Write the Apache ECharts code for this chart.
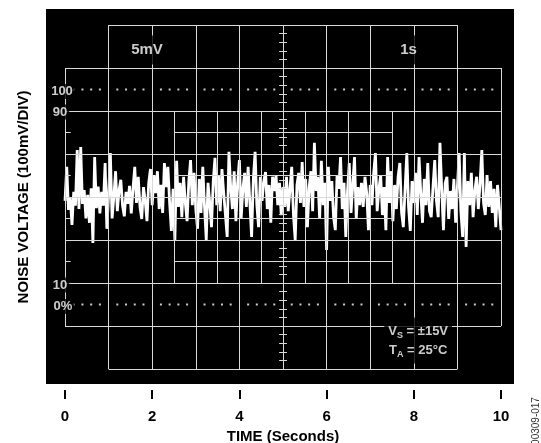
<!DOCTYPE html>
<html>
<head>
<meta charset="utf-8">
<script src="https://cdn.jsdelivr.net/npm/echarts@6/dist/echarts.min.js"></script>
<style>
html,body{margin:0;padding:0;background:#fff;}
#chart{width:541px;height:443px;}
</style>
</head>
<body>
<div id="chart"></div>
<script>
// ---- data ----
const timeTicks = [0, 2, 4, 6, 8, 10];          // seconds
const sampleStep = 0.04;                         // seconds between samples
const noiseMV = [
  -9, 70, -30, 0, -65, 12, -20, 109, -28, 116, -16, 16, -50, 5, -60, 20, -107, 93, -26, 24,
  -38, 12, -20, 79, -74, 5, 102, -50, 0, 60, -33, 16, 40, -20, -45, 12, -16, 26, -38, 20,
  70, -14, 47, -23, -51, 23, -9, -56, 33, 65, -19, 51, 9, 60, -28, 28, -37, 79, 23, 70,
  -14, -79, 19, -100, 84, -23, 33, -47, 47, -14, -56, 37, 86, -19, 56, -28, -74, 42, -37, 70,
  -23, -100, 33, -14,
  -70, 37, 91, -19, 51, -33, 65, 9, -42, -93, 105, 23, -28, 60, -56, 33, 86, -51, 19, 56,
  -23, 70, -14, -93, 42, 105, -19, -70, 47, -9, 37, 58, -28, 28, -60, 47, 14, 51, -19, 33,
  -42, 23, -23,
  47, -33, 19, 70, -42, -100, 28, 56, -14, 81, -23, 42, -70, 23, 60, -33, 126, 14, 47, -51,
  84, -19, 33, -123, 70, -9, 37, -47, -77, 51, 19, 93, -28, 33, -93, 14, 79, -37, 28, 93,
  -51, 23, -19,
  33, -23, 47, 9, -77, 28, -19, 56, 102, -33, 19, 51, -42, 23, -77, 93, -14, 60, -56, 28,
  -28, 47, 79, -37, -70, 19, 102, -23, -79, 37, -14, 56, -42, 93, 9, -60, 42, -19, 79, -33,
  -47, 23,
  86, -9, -47, 126, 19, -77, 33, 47, -51, 14, -28, 42, -60, 23, 102, -33, -93, 102, -116, 37,
  -19, 56, -47, 14, 47, -28, 33, 109, -14, -42, 51, -23, 37, -37, 19, -70, 28, -23, -77
];

// ---- build ----
const FONT = "'Liberation Sans', Arial, Helvetica, sans-serif";
const GRID_COLOR = '#d9d9d9';
const noiseData = noiseMV.map((v, i) => [+(i * sampleStep).toFixed(2), v]);

function seg(x1, y1, x2, y2) { return [{coord: [x1, y1]}, {coord: [x2, y2]}]; }
const grat = [];
for (let t = 1; t <= 9; t++) grat.push(seg(t, -400, t, 400));
grat.push(seg(0, -300, 0, 300));
grat.push(seg(10, -300, 10, 300));
grat.push(seg(1, 400, 9, 400));
grat.push(seg(1, -400, 9, -400));
for (let v = -300; v <= 300; v += 100) grat.push(seg(0, v, 10, v));
for (let k = 5; k <= 15; k++) grat.push(seg(k * 0.5, -200, k * 0.5, 200));
for (let k = -4; k <= 4; k++) grat.push(seg(2.5, k * 50, 7.5, k * 50));
for (let k = -20; k <= 20; k++) grat.push(seg(4.91, k * 20, 5.09, k * 20));
[150, 50, -50, -150].forEach(v => grat.push(seg(0, v, 0.13, v)));

const dots = [];
for (let k = 1; k < 50; k++) {
  if (k % 5 === 0) continue;
  dots.push([k * 0.2, 250]);
  dots.push([k * 0.2, -250]);
}

const labelBase = {
  show: true, color: '#fff', fontFamily: FONT, fontWeight: 'bold',
  backgroundColor: '#000', position: 'inside'
};
const annotations = [
  {value: [0, 250], label: Object.assign({}, labelBase, {formatter: '100', fontSize: 13, padding: [1, 2], offset: [-3, 2]})},
  {value: [0, 200], label: Object.assign({}, labelBase, {formatter: '90', fontSize: 13, padding: [1, 2], offset: [-5, 1]})},
  {value: [0, -200], label: Object.assign({}, labelBase, {formatter: '10', fontSize: 13, padding: [1, 2], offset: [-5, 2]})},
  {value: [0, -250], label: Object.assign({}, labelBase, {formatter: '0%', fontSize: 13, padding: [1, 2], offset: [-2, 2]})},
  {value: [1.88, 342], label: Object.assign({}, labelBase, {formatter: '5mV', fontSize: 15, padding: [7, 4]})},
  {value: [7.88, 342], label: Object.assign({}, labelBase, {formatter: '1s', fontSize: 15, padding: [7, 4]})},
  {value: [8.1, -334], label: Object.assign({}, labelBase, {
    formatter: '{a|V}{s|S}{a| = ±15V}\n{a|T}{s|A}{a| = 25°C}',
    padding: [4, 4],
    rich: {
      a: {color: '#fff', fontFamily: FONT, fontWeight: 'bold', fontSize: 13, lineHeight: 19},
      s: {color: '#fff', fontFamily: FONT, fontWeight: 'bold', fontSize: 9, lineHeight: 19, padding: [8, 0, 0, 0]}
    }
  })}
];

const chart = echarts.init(document.getElementById('chart'), null, {renderer: 'canvas'});
chart.setOption({
  animation: false,
  backgroundColor: '#fff',
  graphic: [
    {type: 'rect', z: -10, silent: true, shape: {x: 46, y: 9, width: 468, height: 375}, style: {fill: '#000'}},
    {type: 'text', silent: true, x: 536, y: 421, rotation: Math.PI / 2,
      style: {text: '00309-017', fill: '#333', font: '10px ' + FONT, align: 'center', verticalAlign: 'middle'}}
  ],
  grid: {left: 65, top: 25, width: 436, height: 344, containLabel: false, outerBoundsMode: 'none'},
  xAxis: {
    type: 'value', min: 0, max: 10, interval: 2, offset: 21, position: 'bottom',
    axisLine: {show: true, onZero: false, lineStyle: {color: '#000', opacity: 0}},
    axisTick: {show: true, inside: false, length: 9, lineStyle: {color: '#000', width: 2}},
    axisLabel: {show: true, margin: 19, color: '#000', fontFamily: FONT, fontWeight: 'bold', fontSize: 15,
      formatter: v => (timeTicks.indexOf(v) >= 0 ? String(v) : '')},
    splitLine: {show: false},
    name: 'TIME (Seconds)', nameLocation: 'middle', nameGap: 38,
    nameTextStyle: {color: '#000', fontFamily: FONT, fontWeight: 'bold', fontSize: 15}
  },
  yAxis: {
    type: 'value', min: -400, max: 400, interval: 100,
    axisLine: {show: false, onZero: false}, axisTick: {show: false}, axisLabel: {show: false}, splitLine: {show: false},
    name: 'NOISE VOLTAGE (100mV/DIV)', nameLocation: 'middle', nameGap: 34, nameRotate: 90,
    nameTextStyle: {color: '#000', fontFamily: FONT, fontWeight: 'bold', fontSize: 15}
  },
  series: [
    {
      type: 'line', z: 1, data: [], silent: true,
      markLine: {silent: true, symbol: 'none', animation: false, label: {show: false},
        lineStyle: {color: GRID_COLOR, width: 1, type: 'solid'}, emphasis: {disabled: true}, data: grat}
    },
    {
      type: 'scatter', z: 2, silent: true, symbol: 'rect', symbolSize: 2,
      itemStyle: {color: '#fff'}, data: dots
    },
    {
      type: 'line', z: 3, silent: true, showSymbol: false, symbol: 'none',
      lineStyle: {color: '#fff', width: 2.8}, data: noiseData
    },
    {
      type: 'scatter', z: 5, silent: true, symbolSize: 0, data: annotations
    }
  ]
});
</script>
</body>
</html>
